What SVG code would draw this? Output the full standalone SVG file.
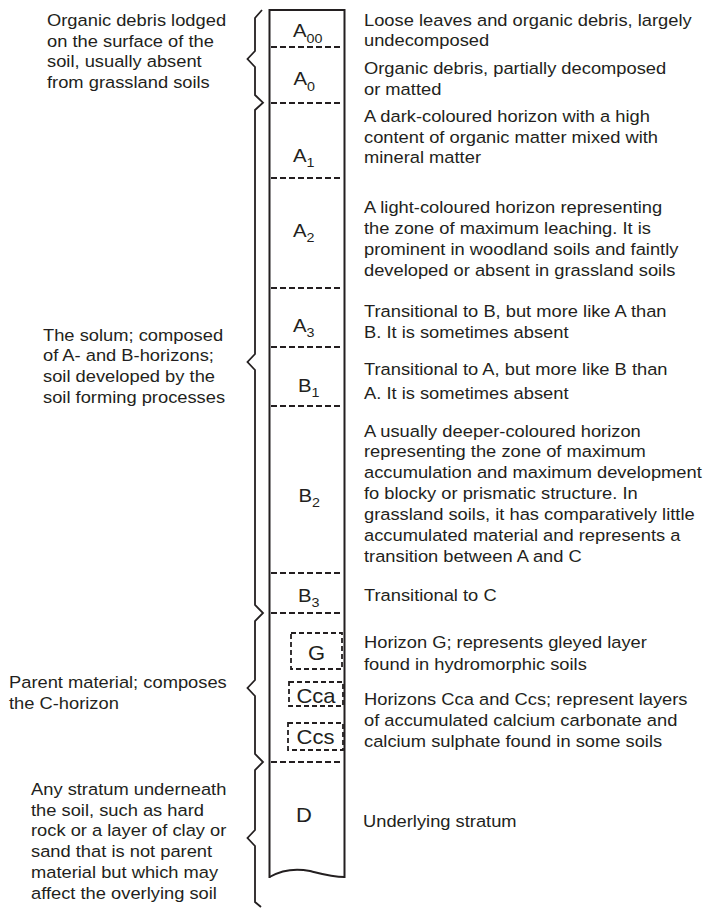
<svg xmlns="http://www.w3.org/2000/svg" width="705" height="908" viewBox="0 0 705 908">
<style>
text{font-family:"Liberation Sans",Arial,sans-serif;fill:#231f20}
.d{font-size:16.5px}
.h{font-size:18.5px}
.hb{font-size:20px}
.s{font-size:13px}
.col{fill:none;stroke:#231f20;stroke-width:2}
.br{fill:none;stroke:#231f20;stroke-width:1.8;stroke-linejoin:miter}
.dash{stroke:#231f20;stroke-width:2;stroke-dasharray:6 3}
.box{fill:none;stroke:#231f20;stroke-width:1.8;stroke-dasharray:5 3}
</style>
<rect width="705" height="908" fill="#fff"/>
<g id="column">
<path class="col" d="M269.5,10 L344.5,10 M269.5,9 L269.5,878 M344.5,9 L344.5,878"/>
<path class="col" d="M269.5,877 C280,871 295,868 310,871 C322,874 333,877 344.5,877"/>
</g>
<g id="connectors">
<line class="dash" x1="271" y1="47" x2="343" y2="47"/>
<line class="dash" x1="271" y1="103" x2="343" y2="103"/>
<line class="dash" x1="271" y1="178" x2="341" y2="178"/>
<line class="dash" x1="271" y1="288" x2="343" y2="288"/>
<line class="dash" x1="271" y1="347" x2="341" y2="347"/>
<line class="dash" x1="271" y1="406" x2="341" y2="406"/>
<line class="dash" x1="271" y1="573" x2="341" y2="573"/>
<line class="dash" x1="271" y1="613" x2="343" y2="613"/>
<line class="dash" x1="271" y1="762" x2="343" y2="762"/>
</g>
<g id="braces">
<path class="br" d="M262,10 L255,18 L255,51 L247.5,59 L255,67 L255,95 L263,102.7 L255,110 L255,354 L247.5,362 L255,370 L255,605 L263,613 L255,621 L255,680 L247.5,688 L255,696 L255,754 L263,762 L255,770 L255,830 L247.5,838 L255,846 L255,902 L261,907"/>
</g>
<g id="A00" transform="translate(293,0) scale(1.1,1)"><text class="h" x="0" y="37">A<tspan class="s" dy="6">00</tspan></text></g>
<g id="A0" transform="translate(293.5,0) scale(1.1,1)"><text class="h" x="0" y="85">A<tspan class="s" dy="6">0</tspan></text></g>
<g id="A1" transform="translate(293,0) scale(1.1,1)"><text class="h" x="0" y="162">A<tspan class="s" dy="5">1</tspan></text></g>
<g id="A2" transform="translate(293,0) scale(1.1,1)"><text class="h" x="0" y="237">A<tspan class="s" dy="5">2</tspan></text></g>
<g id="A3" transform="translate(293,0) scale(1.1,1)"><text class="h" x="0" y="332">A<tspan class="s" dy="5">3</tspan></text></g>
<g id="B1" transform="translate(298,0) scale(1.1,1)"><text class="h" x="0" y="392">B<tspan class="s" dy="5">1</tspan></text></g>
<g id="B2" transform="translate(298.5,0) scale(1.1,1)"><text class="h" x="0" y="502">B<tspan class="s" dy="5">2</tspan></text></g>
<g id="B3" transform="translate(298,0) scale(1.1,1)"><text class="h" x="0" y="602">B<tspan class="s" dy="5">3</tspan></text></g>
<g id="G"><rect class="box" x="291" y="633" width="51" height="36"/><text class="hb" x="316.5" y="660" text-anchor="middle" transform="translate(316.5,0) scale(1.1,1) translate(-316.5,0)">G</text></g>
<g id="Cca"><rect class="box" x="289" y="682" width="54" height="24"/><text class="hb" x="316" y="703" text-anchor="middle" transform="translate(316,0) scale(1.1,1) translate(-316,0)">Cca</text></g>
<g id="Ccs"><rect class="box" x="288" y="723" width="55" height="27"/><text class="hb" x="315.5" y="744" text-anchor="middle" transform="translate(315.5,0) scale(1.1,1) translate(-315.5,0)">Ccs</text></g>
<g id="D"><text class="hb" x="304" y="822" text-anchor="middle" transform="translate(304,0) scale(1.1,1) translate(-304,0)">D</text></g>
<g id="right-texts">
<g transform="translate(364,0) scale(1.11,1)">
<text class="d" x="0" y="26">Loose leaves and organic debris, largely</text>
<text class="d" x="0" y="46">undecomposed</text>
<text class="d" x="0" y="74">Organic debris, partially decomposed</text>
<text class="d" x="0" y="95">or matted</text>
<text class="d" x="0" y="122">A dark-coloured horizon with a high</text>
<text class="d" x="0" y="143">content of organic matter mixed with</text>
<text class="d" x="0" y="163.5">mineral matter</text>
<text class="d" x="0" y="213.5">A light-coloured horizon representing</text>
<text class="d" x="0" y="234">the zone of maximum leaching. It is</text>
<text class="d" x="0" y="255">prominent in woodland soils and faintly</text>
<text class="d" x="0" y="276">developed or absent in grassland soils</text>
<text class="d" x="0" y="317.5">Transitional to B, but more like A than</text>
<text class="d" x="0" y="338.5">B. It is sometimes absent</text>
<text class="d" x="0" y="375">Transitional to A, but more like B than</text>
<text class="d" x="0" y="399.5">A. It is sometimes absent</text>
<text class="d" x="0" y="437">A usually deeper-coloured horizon</text>
<text class="d" x="0" y="457.5">representing the zone of maximum</text>
<text class="d" x="0" y="478.5">accumulation and maximum development</text>
<text class="d" x="0" y="499">fo blocky or prismatic structure. In</text>
<text class="d" x="0" y="520">grassland soils, it has comparatively little</text>
<text class="d" x="0" y="541">accumulated material and represents a</text>
<text class="d" x="0" y="562">transition between A and C</text>
<text class="d" x="0" y="601">Transitional to C</text>
<text class="d" x="0" y="648.5">Horizon G; represents gleyed layer</text>
<text class="d" x="0" y="670">found in hydromorphic soils</text>
<text class="d" x="0" y="705">Horizons Cca and Ccs; represent layers</text>
<text class="d" x="0" y="726.5">of accumulated calcium carbonate and</text>
<text class="d" x="0" y="747.5">calcium sulphate found in some soils</text>
</g>
<g transform="translate(363,0) scale(1.11,1)">
<text class="d" x="0" y="827">Underlying stratum</text>
</g>
</g>
<g id="left-texts">
<g transform="translate(47,0) scale(1.11,1)">
<text class="d" x="0" y="26.5">Organic debris lodged</text>
<text class="d" x="0" y="47">on the surface of the</text>
<text class="d" x="0" y="67.5">soil, usually absent</text>
<text class="d" x="0" y="88">from grassland soils</text>
</g>
<g transform="translate(43,0) scale(1.11,1)">
<text class="d" x="0" y="341">The solum; composed</text>
<text class="d" x="0" y="361.5">of A- and B-horizons;</text>
<text class="d" x="0" y="382.5">soil developed by the</text>
<text class="d" x="0" y="403">soil forming processes</text>
</g>
<g transform="translate(9,0) scale(1.11,1)">
<text class="d" x="0" y="688">Parent material; composes</text>
<text class="d" x="0" y="709">the C-horizon</text>
</g>
<g transform="translate(31,0) scale(1.11,1)">
<text class="d" x="0" y="795">Any stratum underneath</text>
<text class="d" x="0" y="816">the soil, such as hard</text>
<text class="d" x="0" y="836.5">rock or a layer of clay or</text>
<text class="d" x="0" y="857.5">sand that is not parent</text>
<text class="d" x="0" y="878">material but which may</text>
<text class="d" x="0" y="899">affect the overlying soil</text>
</g>
</g>
</svg>
